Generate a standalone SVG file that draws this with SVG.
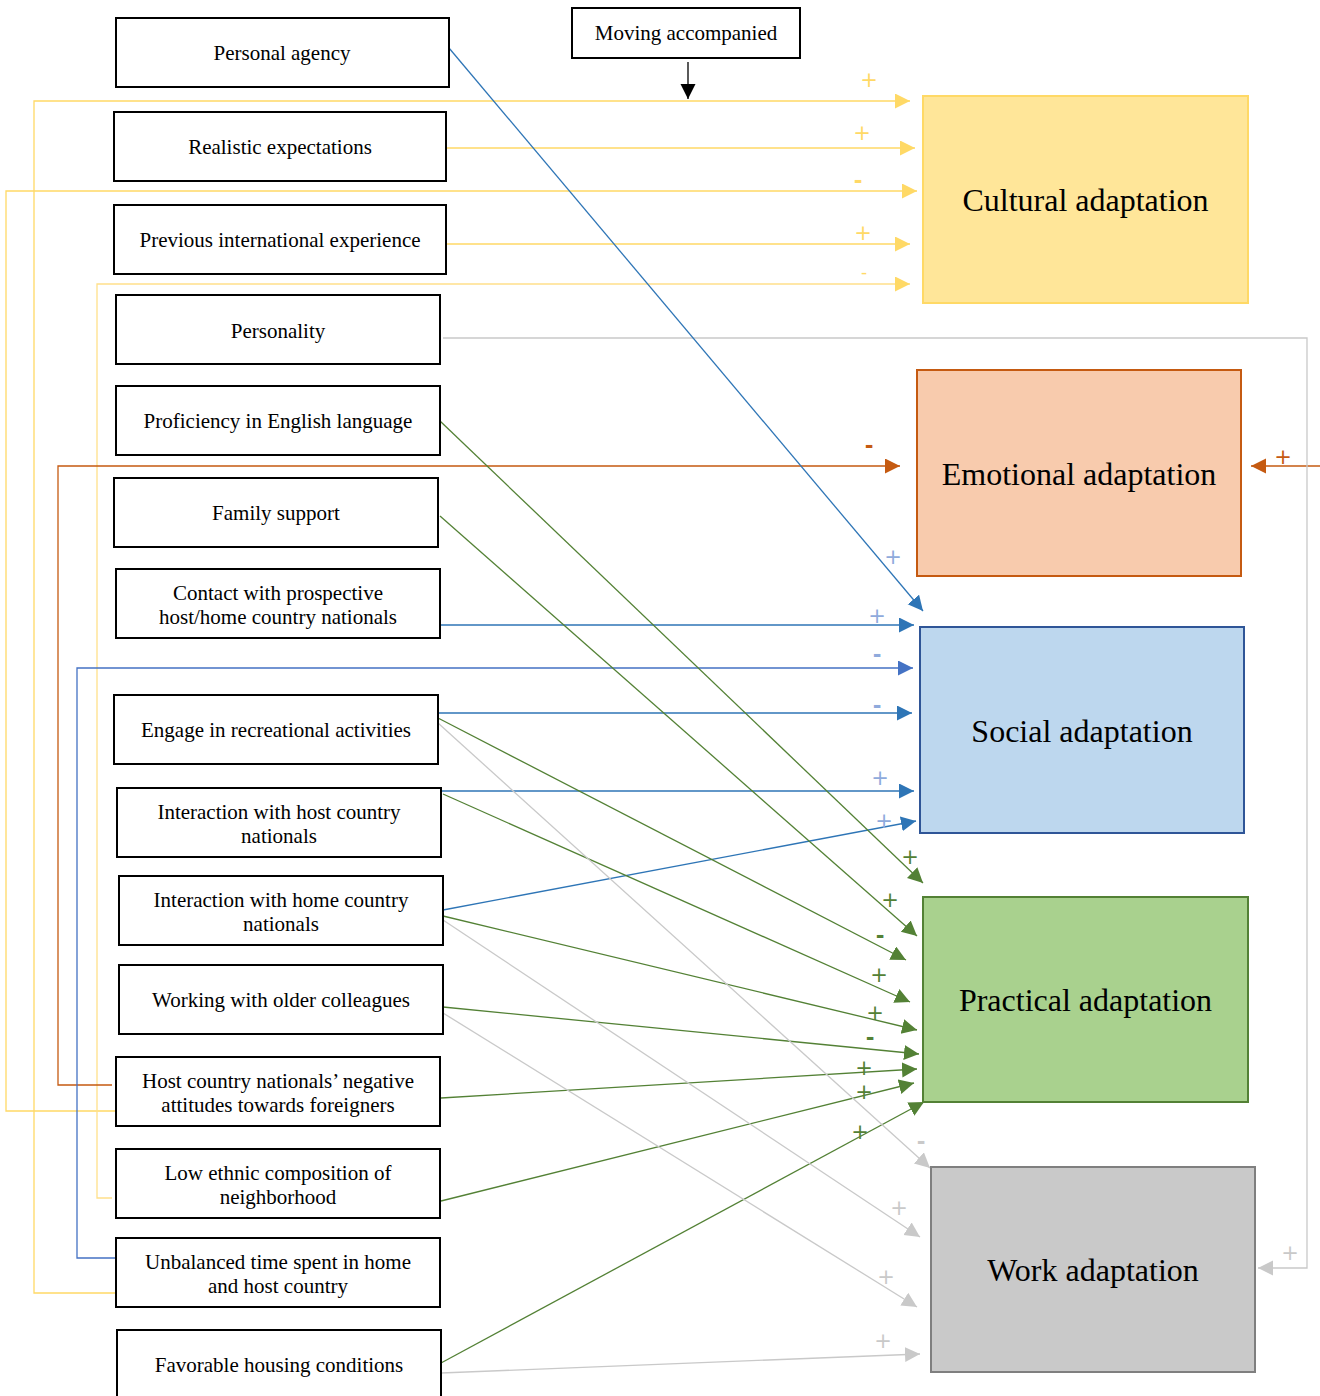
<svg xmlns="http://www.w3.org/2000/svg" width="1320" height="1396" viewBox="0 0 1320 1396">
<style>
.box{fill:#fff;stroke:#000;stroke-width:2}
.lbl{font-family:"Liberation Serif","Times New Roman",serif;font-size:21px;fill:#000;text-anchor:middle}
.big{font-family:"Liberation Serif","Times New Roman",serif;font-size:32px;fill:#000;text-anchor:middle}
.c{fill:none;stroke-width:1.3}
.y{stroke:#FFD966}.o{stroke:#C55A11}.b{stroke:#2E75B6}.b2{stroke:#4472C4}.g{stroke:#538135}.gr{stroke:#C9C9C9}.k{stroke:#000}
.s{font-family:"DejaVu Sans","Liberation Sans",sans-serif;font-size:21px;text-anchor:middle}
.m{font-weight:bold}
</style>
<defs>
<marker id="my" markerWidth="16" markerHeight="16" refX="15" refY="7.5" orient="auto" markerUnits="userSpaceOnUse"><path d="M0,0 L15,7.5 L0,15 z" fill="#FFD966"/></marker>
<marker id="mo" markerWidth="16" markerHeight="16" refX="15" refY="7.5" orient="auto" markerUnits="userSpaceOnUse"><path d="M0,0 L15,7.5 L0,15 z" fill="#C55A11"/></marker>
<marker id="mb" markerWidth="16" markerHeight="16" refX="15" refY="7.5" orient="auto" markerUnits="userSpaceOnUse"><path d="M0,0 L15,7.5 L0,15 z" fill="#2E75B6"/></marker>
<marker id="mb2" markerWidth="16" markerHeight="16" refX="15" refY="7.5" orient="auto" markerUnits="userSpaceOnUse"><path d="M0,0 L15,7.5 L0,15 z" fill="#4472C4"/></marker>
<marker id="mg" markerWidth="16" markerHeight="16" refX="15" refY="7.5" orient="auto" markerUnits="userSpaceOnUse"><path d="M0,0 L15,7.5 L0,15 z" fill="#538135"/></marker>
<marker id="mgr" markerWidth="16" markerHeight="16" refX="15" refY="7.5" orient="auto" markerUnits="userSpaceOnUse"><path d="M0,0 L15,7.5 L0,15 z" fill="#C9C9C9"/></marker>
<marker id="mk" markerWidth="16" markerHeight="16" refX="15" refY="7.5" orient="auto" markerUnits="userSpaceOnUse"><path d="M0,0 L15,7.5 L0,15 z" fill="#000"/></marker>
</defs>
<rect width="1320" height="1396" fill="#fff"/>

<g id="connectors">
<polyline class="c y" points="116,1293 34,1293 34,101 910,101" marker-end="url(#my)"/>
<line class="c y" x1="446" y1="148" x2="915" y2="148" marker-end="url(#my)"/>
<polyline class="c y" points="116,1111 6,1111 6,191 917,191" marker-end="url(#my)"/>
<line class="c y" x1="446" y1="244" x2="910" y2="244" marker-end="url(#my)"/>
<polyline class="c" stroke="#FFE08A" points="112,1198 97,1198 97,284 910,284" marker-end="url(#my)"/>
<line class="c k" x1="688" y1="62" x2="688" y2="99" marker-end="url(#mk)"/>
<polyline class="c o" points="112,1085 58,1085 58,466 900,466" marker-end="url(#mo)"/>
<line class="c o" x1="1320" y1="466" x2="1251" y2="466" marker-end="url(#mo)"/>
<polyline class="c gr" points="443,338 1307,338 1307,1268 1258,1268" marker-end="url(#mgr)"/>
<line class="c b" x1="449" y1="48" x2="923" y2="611" marker-end="url(#mb)"/>
<line class="c b" x1="440" y1="625" x2="914" y2="625" marker-end="url(#mb)"/>
<polyline class="c b2" points="116,1258 77,1258 77,668 913,668" marker-end="url(#mb2)"/>
<line class="c b" x1="438" y1="713" x2="912" y2="713" marker-end="url(#mb)"/>
<line class="c b" x1="441" y1="791" x2="914" y2="791" marker-end="url(#mb)"/>
<line class="c b" x1="443" y1="910" x2="916" y2="821" marker-end="url(#mb)"/>
<line class="c g" x1="440" y1="421" x2="923" y2="883" marker-end="url(#mg)"/>
<line class="c g" x1="440" y1="516" x2="917" y2="936" marker-end="url(#mg)"/>
<line class="c g" x1="438" y1="718" x2="906" y2="960" marker-end="url(#mg)"/>
<line class="c g" x1="443" y1="794" x2="910" y2="1002" marker-end="url(#mg)"/>
<line class="c g" x1="443" y1="916" x2="917" y2="1030" marker-end="url(#mg)"/>
<line class="c g" x1="443" y1="1007" x2="919" y2="1054" marker-end="url(#mg)"/>
<line class="c g" x1="441" y1="1098" x2="917" y2="1069" marker-end="url(#mg)"/>
<line class="c g" x1="441" y1="1201" x2="914" y2="1083" marker-end="url(#mg)"/>
<line class="c g" x1="441" y1="1363" x2="924" y2="1102" marker-end="url(#mg)"/>
<line class="c gr" x1="438" y1="723" x2="930" y2="1168" marker-end="url(#mgr)"/>
<line class="c gr" x1="443" y1="920" x2="920" y2="1237" marker-end="url(#mgr)"/>
<line class="c gr" x1="443" y1="1013" x2="917" y2="1307" marker-end="url(#mgr)"/>
<line class="c gr" x1="441" y1="1373" x2="920" y2="1354" marker-end="url(#mgr)"/>

<g class="s" fill="#FFD966">
<text x="869" y="87">+</text>
<text x="862" y="140">+</text>
<text class="m" x="858" y="188">-</text>
<text x="863" y="240">+</text>
<text x="864" y="278" font-size="17">-</text>
</g>
<g class="s" fill="#C55A11">
<text class="m" x="869" y="453">-</text>
<text x="1283" y="464">+</text>
</g>
<g class="s" fill="#8FAADC">
<text x="893" y="564">+</text>
<text x="877" y="623">+</text>
<text class="m" x="877" y="662">-</text>
<text class="m" x="877" y="713">-</text>
<text x="880" y="785">+</text>
<text x="884" y="828">+</text>
</g>
<g class="s" fill="#538135">
<text x="910" y="864">+</text>
<text x="890" y="907">+</text>
<text class="m" x="880" y="943">-</text>
<text x="879" y="982">+</text>
<text x="875" y="1020">+</text>
<text class="m" x="870" y="1045">-</text>
<text x="864" y="1075">+</text>
<text x="864" y="1099">+</text>
<text x="860" y="1139">+</text>
</g>
<g class="s" fill="#C9C9C9">
<text class="m" x="921" y="1149">-</text>
<text x="899" y="1215">+</text>
<text x="886" y="1284">+</text>
<text x="883" y="1348">+</text>
<text x="1290" y="1260">+</text>
</g>
</g>

<g id="n-personal-agency"><rect class="box" x="116" y="18" width="333" height="69"/><text class="lbl" x="282" y="60">Personal agency</text></g>
<g id="n-realistic"><rect class="box" x="114" y="112" width="332" height="69"/><text class="lbl" x="280" y="154">Realistic expectations</text></g>
<g id="n-previous"><rect class="box" x="114" y="205" width="332" height="69"/><text class="lbl" x="280" y="247">Previous international experience</text></g>
<g id="n-personality"><rect class="box" x="116" y="295" width="324" height="69"/><text class="lbl" x="278" y="338">Personality</text></g>
<g id="n-english"><rect class="box" x="116" y="386" width="324" height="69"/><text class="lbl" x="278" y="428">Proficiency in English language</text></g>
<g id="n-family"><rect class="box" x="114" y="478" width="324" height="69"/><text class="lbl" x="276" y="520">Family support</text></g>
<g id="n-contact"><rect class="box" x="116" y="569" width="324" height="69"/><text class="lbl" x="278" y="600">Contact with prospective</text><text class="lbl" x="278" y="624">host/home country nationals</text></g>
<g id="n-recreational"><rect class="box" x="114" y="695" width="324" height="69"/><text class="lbl" x="276" y="737">Engage in recreational activities</text></g>
<g id="n-int-host"><rect class="box" x="117" y="788" width="324" height="69"/><text class="lbl" x="279" y="819">Interaction with host country</text><text class="lbl" x="279" y="843">nationals</text></g>
<g id="n-int-home"><rect class="box" x="119" y="876" width="324" height="69"/><text class="lbl" x="281" y="907">Interaction with home country</text><text class="lbl" x="281" y="931">nationals</text></g>
<g id="n-older"><rect class="box" x="119" y="965" width="324" height="69"/><text class="lbl" x="281" y="1007">Working with older colleagues</text></g>
<g id="n-negative"><rect class="box" x="116" y="1057" width="324" height="69"/><text class="lbl" x="278" y="1088">Host country nationals’ negative</text><text class="lbl" x="278" y="1112">attitudes towards foreigners</text></g>
<g id="n-ethnic"><rect class="box" x="116" y="1149" width="324" height="69"/><text class="lbl" x="278" y="1180">Low ethnic composition of</text><text class="lbl" x="278" y="1204">neighborhood</text></g>
<g id="n-unbalanced"><rect class="box" x="116" y="1238" width="324" height="69"/><text class="lbl" x="278" y="1269">Unbalanced time spent in home</text><text class="lbl" x="278" y="1293">and host country</text></g>
<g id="n-housing"><rect class="box" x="117" y="1330" width="324" height="72"/><text class="lbl" x="279" y="1372">Favorable housing conditions</text></g>
<g id="n-moving"><rect class="box" x="572" y="8" width="228" height="50"/><text class="lbl" x="686" y="40">Moving accompanied</text></g>

<g id="n-cultural"><rect x="923" y="96" width="325" height="207" fill="#FFE699" stroke="#FFD966" stroke-width="2"/><text class="big" x="1085.5" y="211">Cultural adaptation</text></g>
<g id="n-emotional"><rect x="917" y="370" width="324" height="206" fill="#F8CBAD" stroke="#C55A11" stroke-width="2"/><text class="big" x="1079" y="485">Emotional adaptation</text></g>
<g id="n-social"><rect x="920" y="627" width="324" height="206" fill="#BDD7EE" stroke="#2F5597" stroke-width="2"/><text class="big" x="1082" y="742">Social adaptation</text></g>
<g id="n-practical"><rect x="923" y="897" width="325" height="205" fill="#A9D18E" stroke="#538135" stroke-width="2"/><text class="big" x="1085.5" y="1011">Practical adaptation</text></g>
<g id="n-work"><rect x="931" y="1167" width="324" height="205" fill="#C9C9C9" stroke="#7F7F7F" stroke-width="2"/><text class="big" x="1093" y="1281">Work adaptation</text></g>
</svg>
